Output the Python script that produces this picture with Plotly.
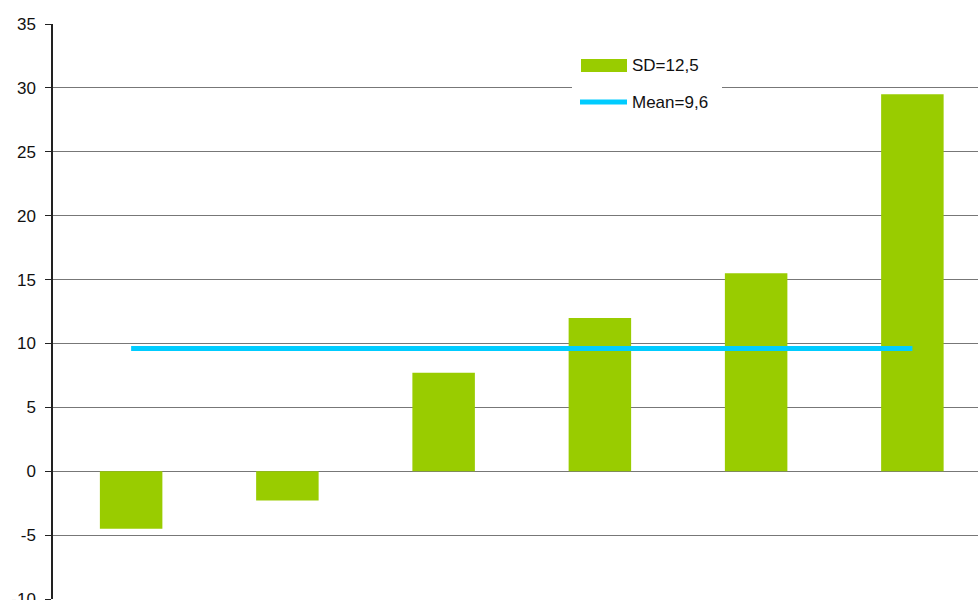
import plotly.graph_objects as go

categories = ["1", "2", "3", "4", "5", "6"]
values = [-4.5, -2.3, 7.7, 12.0, 15.5, 29.5]
mean_value = 9.6
sd_label = "SD=12,5"
mean_label = "Mean=9,6"
y_ticks = [-10, -5, 0, 5, 10, 15, 20, 25, 30, 35]
y_tick_labels = [str(v) for v in y_ticks]

GREEN = "#99CC00"
CYAN = "#00CCFF"
FONT = "Liberation Sans, Arial, sans-serif"

fig = go.Figure()
fig.add_trace(go.Bar(x=categories, y=values, marker=dict(color=GREEN, line=dict(width=0)),
                     width=0.4, showlegend=False))
fig.add_trace(go.Scatter(x=[categories[0], categories[-1]], y=[mean_value, mean_value],
                         mode="lines", line=dict(color=CYAN, width=5), showlegend=False))

W, H = 978, 600
ml, mr, mt, mb = 53, 0, 24, 1

def px(x):
    return (x - ml) / (W - ml - mr)

def py(y):
    return 1 - (y - mt) / (H - mt - mb)

shapes = [
    # legend background
    dict(type="rect", xref="paper", yref="paper", x0=px(572), x1=px(722), y0=py(128), y1=py(45),
         fillcolor="white", line=dict(width=0), layer="above"),
    dict(type="rect", xref="paper", yref="paper", x0=px(581), x1=px(627), y0=py(72), y1=py(59),
         fillcolor=GREEN, line=dict(width=0), layer="above"),
    dict(type="line", xref="paper", yref="paper", x0=px(580), x1=px(627), y0=py(102), y1=py(102),
         line=dict(color=CYAN, width=5), layer="above"),
]
annotations = [
    dict(text=sd_label, xref="paper", yref="paper", x=px(630), y=py(65), xanchor="left",
         yanchor="middle", showarrow=False, font=dict(family=FONT, size=17, color="#111111")),
    dict(text=mean_label, xref="paper", yref="paper", x=px(630), y=py(102), xanchor="left",
         yanchor="middle", showarrow=False, font=dict(family=FONT, size=17, color="#111111")),
]

fig.update_layout(
    width=W, height=H,
    margin=dict(l=ml, r=mr, t=mt, b=mb, autoexpand=False),
    paper_bgcolor="white", plot_bgcolor="white",
    font=dict(family=FONT, size=17, color="#111111"),
    xaxis=dict(type="category", range=[-0.5, 5.42], showticklabels=False, showgrid=False,
               zeroline=False, showline=False, ticks="", automargin=False),
    yaxis=dict(range=[-10, 35], tickvals=y_ticks, ticktext=y_tick_labels,
               showgrid=True, gridcolor="#777777", gridwidth=1,
               zeroline=False, showline=True, linecolor="#222222", linewidth=1.5,
               ticks="outside", ticklen=6, tickcolor="#222222", ticklabelstandoff=6,
               ticklabeloverflow="allow", automargin=False),
    shapes=shapes,
    annotations=annotations,
    bargap=0.6,
)

fig.write_html("out.html")
